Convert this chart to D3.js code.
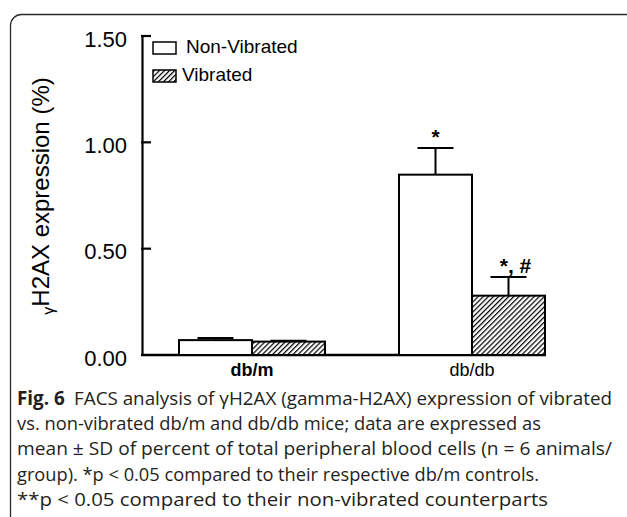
<!DOCTYPE html>
<html>
<head>
<meta charset="utf-8">
<script src="https://cdn.jsdelivr.net/npm/d3@7"></script>
<style>
  html, body { margin: 0; padding: 0; background: #fff; }
  svg { display: block; }
</style>
</head>
<body>
<svg id="chart" width="627" height="517"></svg>
<script>
// ---- data ----
const categories = ["db/m", "db/db"];
const seriesNames = ["Non-Vibrated", "Vibrated"];
const nonVibrated = [0.070, 0.848];
const vibrated = [0.063, 0.279];
const nonVibratedSD = [0.010, 0.125];
const vibratedSD = [0.004, 0.088];
const nonVibratedSig = ["", "*"];
const vibratedSig = ["", "*, #"];
const yTicks = [0, 0.5, 1.0, 1.5];
const yTickLabels = ["0.00", "0.50", "1.00", "1.50"];
const yTitleGamma = "γ";
const yTitleRest = "H2AX expression (%)";
const captionBold = "Fig. 6";
const captionLines = [
  "FACS analysis of γH2AX (gamma-H2AX) expression of vibrated",
  "vs. non-vibrated db/m and db/db mice; data are expressed as",
  "mean ± SD of percent of total peripheral blood cells (n = 6 animals/",
  "group). *p < 0.05 compared to their respective db/m controls.",
  "**p < 0.05 compared to their non-vibrated counterparts"
];
// measured right ends of the caption lines in the reference
const captionLineEnds = [612, 541, 612, 539, 548];

const svg = d3.select("#chart");
const font = "'Liberation Sans', Arial, sans-serif";

// frame
svg.append("rect").attr("x", 10.5).attr("y", 14.5).attr("width", 660).attr("height", 560)
  .attr("rx", 11).attr("fill", "none").attr("stroke", "#2b2b2b").attr("stroke-width", 1.3);

// pattern
const defs = svg.append("defs");
const pat = defs.append("pattern").attr("id", "hatch").attr("patternUnits", "userSpaceOnUse")
  .attr("width", 3.6).attr("height", 3.6).attr("patternTransform", "rotate(45)");
pat.append("rect").attr("width", 3.6).attr("height", 3.6).attr("fill", "#fff");
pat.append("line").attr("x1", 0.6).attr("y1", 0).attr("x2", 0.6).attr("y2", 3.6)
  .attr("stroke", "#000").attr("stroke-width", 1.25);

// scales
const x0 = d3.scaleBand().domain(categories).range([142, 582]);
const x1 = d3.scaleBand().domain(seriesNames).range([0, x0.bandwidth()])
  .paddingInner(0).paddingOuter(0.507);
const y = d3.scaleLinear().domain([0, 1.5]).range([355, 36]);

// y axis
const yAxis = d3.axisRight(y).tickValues(yTicks).tickSize(0).tickFormat("").tickSizeOuter(0);
const gy = svg.append("g").attr("transform", "translate(142,0)").call(yAxis);
gy.select(".domain").attr("stroke", "#000").attr("stroke-width", 2.2);
svg.append("g").selectAll("line").data(yTicks.filter(d => d > 0)).join("line")
  .attr("x1", 141).attr("x2", 151).attr("y1", d => y(d)).attr("y2", d => y(d))
  .attr("stroke", "#000").attr("stroke-width", 2.2);
svg.append("g").selectAll("text").data(yTicks).join("text")
  .attr("x", 127).attr("y", d => y(d) + 3).attr("dy", "0.35em")
  .attr("text-anchor", "end").attr("font-family", font).attr("font-size", 22)
  .text((d, i) => yTickLabels[i]);

// x axis line
const xRight = x0("db/db") + x1("Vibrated") + x1.bandwidth();
svg.append("line").attr("x1", 141).attr("x2", xRight + 1).attr("y1", y(0)).attr("y2", y(0))
  .attr("stroke", "#000").attr("stroke-width", 2.4);

// x labels
svg.append("g").selectAll("text").data(categories).join("text")
  .attr("x", d => x0(d) + x0.bandwidth() / 2).attr("y", 376)
  .attr("text-anchor", "middle").attr("font-family", font).attr("font-size", 18)
  .attr("font-weight", d => d === "db/m" ? "bold" : "normal")
  .text(d => d);

// bars
const seriesData = [
  { name: "Non-Vibrated", vals: nonVibrated, sd: nonVibratedSD, sig: nonVibratedSig, fill: "#fff" },
  { name: "Vibrated", vals: vibrated, sd: vibratedSD, sig: vibratedSig, fill: "url(#hatch)" }
];
const barsG = svg.append("g");
seriesData.forEach(s => {
  categories.forEach((c, i) => {
    const bx = x0(c) + x1(s.name);
    const bw = x1.bandwidth();
    const cx = bx + bw / 2;
    const top = y(s.vals[i]);
    const capY = y(s.vals[i] + s.sd[i]);
    barsG.append("line").attr("x1", cx).attr("x2", cx).attr("y1", top).attr("y2", capY)
      .attr("stroke", "#000").attr("stroke-width", 2);
    barsG.append("line").attr("x1", cx - 18).attr("x2", cx + 18).attr("y1", capY).attr("y2", capY)
      .attr("stroke", "#000").attr("stroke-width", 2);
    barsG.append("rect").attr("x", bx).attr("y", top).attr("width", bw).attr("height", y(0) - top)
      .attr("fill", s.fill).attr("stroke", "#000").attr("stroke-width", 2);
    if (s.sig[i]) {
      barsG.append("text").attr("x", cx + (s.sig[i].length > 1 ? 7 : 0)).attr("y", capY - 4)
        .attr("text-anchor", "middle").attr("font-family", font).attr("font-size", 21)
        .attr("font-weight", "bold")
        .text(s.sig[i]);
    }
  });
});

// legend
const legend = svg.append("g");
seriesData.forEach((s, i) => {
  const ly = 42 + i * 28;
  legend.append("rect").attr("x", 153).attr("y", ly).attr("width", 23).attr("height", 12)
    .attr("fill", s.fill).attr("stroke", "#000").attr("stroke-width", 1.5);
  legend.append("text").attr("x", i === 0 ? 186 : 182).attr("y", ly + 11)
    .attr("font-family", font).attr("font-size", 19).text(s.name);
});

// y title
const yt = svg.append("text").attr("transform", "translate(49,196) rotate(-90)")
  .attr("text-anchor", "middle").attr("font-family", font).attr("font-size", 24);
yt.append("tspan").attr("font-size", 16).attr("dy", 5).text(yTitleGamma);
yt.append("tspan").attr("dy", -5).text(yTitleRest);

// caption
const capFont = "'Open Sans', 'Noto Sans', sans-serif";
const cap = svg.append("g");
const lineH = 25.2;
captionLines.forEach((t, i) => {
  const tx = cap.append("text").attr("x", 17).attr("y", 405 + i * lineH)
    .attr("font-family", capFont).attr("font-size", 18.8).attr("fill", "#231f20")
    .attr("textLength", captionLineEnds[i] - 17).attr("lengthAdjust", "spacingAndGlyphs");
  if (i === 0) {
    tx.append("tspan").attr("font-weight", "bold").text(captionBold);
    tx.append("tspan").text("\u2002" + t);
  } else {
    tx.text(t);
  }
});
</script>
</body>
</html>
